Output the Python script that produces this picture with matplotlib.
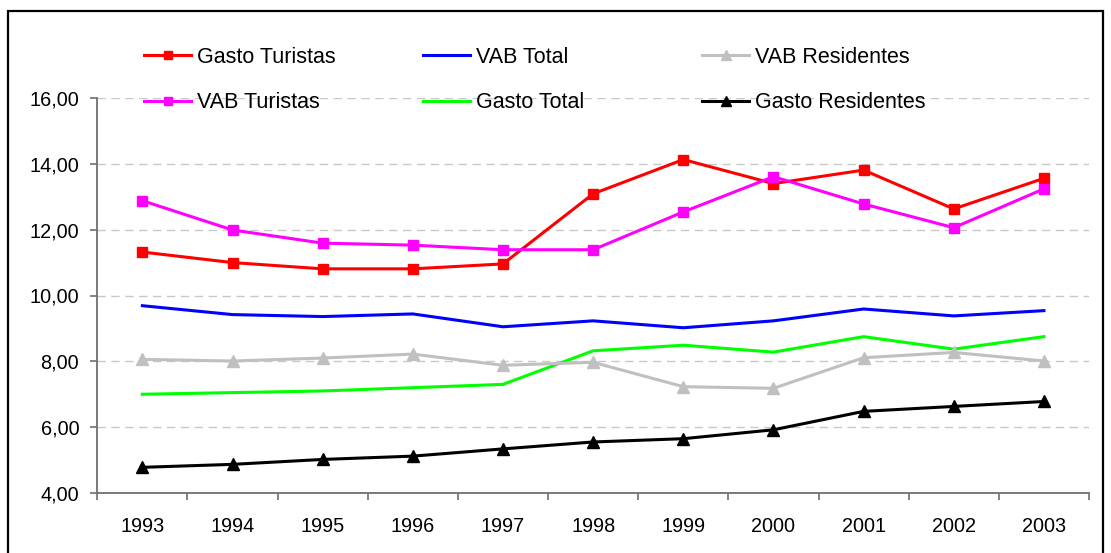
import matplotlib
matplotlib.use("Agg")
import matplotlib.pyplot as plt
from matplotlib.patches import Rectangle

plt.rcParams['font.family'] = ['Liberation Sans', 'DejaVu Sans']

# DATA
years = ["1993", "1994", "1995", "1996", "1997", "1998", "1999", "2000", "2001", "2002", "2003"]
gasto_turistas = [11.32, 11.00, 10.81, 10.81, 10.96, 13.09, 14.13, 13.40, 13.81, 12.63, 13.56]
vab_turistas = [12.88, 11.99, 11.59, 11.53, 11.39, 11.39, 12.54, 13.61, 12.78, 12.06, 13.24]
vab_total = [9.69, 9.42, 9.36, 9.44, 9.05, 9.23, 9.02, 9.23, 9.59, 9.38, 9.54]
gasto_total = [7.00, 7.05, 7.10, 7.20, 7.30, 8.32, 8.49, 8.28, 8.75, 8.37, 8.75]
vab_residentes = [8.06, 8.01, 8.10, 8.22, 7.88, 7.97, 7.23, 7.18, 8.11, 8.27, 8.01]
gasto_residentes = [4.78, 4.87, 5.02, 5.12, 5.34, 5.55, 5.65, 5.92, 6.48, 6.63, 6.78]

yticks = [4, 6, 8, 10, 12, 14, 16]
ytick_labels = ["4,00", "6,00", "8,00", "10,00", "12,00", "14,00", "16,00"]

fig = plt.figure(figsize=(11.11, 5.53), dpi=100)
ax = fig.add_axes([97.3/1111, 60/553, (1089-97.3)/1111, (493-98)/553])

x = [i + 0.5 for i in range(len(years))]
lw = 2.2

series = [
    ("Gasto Turistas", gasto_turistas, "#FF0000", "s", 7),
    ("VAB Turistas", vab_turistas, "#FF00FF", "s", 7),
    ("VAB Total", vab_total, "#0000FF", None, 0),
    ("Gasto Total", gasto_total, "#00FF00", None, 0),
    ("VAB Residentes", vab_residentes, "#C0C0C0", "^", 8),
    ("Gasto Residentes", gasto_residentes, "#000000", "^", 8),
]

handles = []
for name, vals, col, mk, ms in series:
    l, = ax.plot(x, vals, color=col, lw=lw, marker=mk, markersize=ms,
                 markeredgecolor=col, markerfacecolor=col, label=name, zorder=3)
    handles.append(l)

ax.set_xlim(0, len(years))
ax.set_ylim(4, 16)

# grid
for v in yticks[1:]:
    ax.axhline(v, color="#C8C8C8", lw=1, ls=(0, (6, 4)), zorder=1)

ax.set_yticks(yticks)
ax.set_yticklabels(ytick_labels)
ax.set_xticks(range(len(years) + 1))
ax.set_xticklabels([])
ax.set_xticks(x, minor=True)
ax.set_xticklabels(years, minor=True)
ax.tick_params(axis="x", which="major", length=5, color="#707070", width=1.2)
ax.tick_params(axis="x", which="minor", length=0, pad=17, labelsize=14.3)
ax.tick_params(axis="y", length=5, color="#707070", width=1.2, pad=8, labelsize=14.3)

for s in ["top", "right"]:
    ax.spines[s].set_visible(False)
for s in ["left", "bottom"]:
    ax.spines[s].set_color("#707070")
    ax.spines[s].set_linewidth(1.3)

# legend in three fixed columns
col_x = [144, 423, 702]
for j in range(3):
    leg = fig.legend(handles[2*j:2*j+2], [h.get_label() for h in handles[2*j:2*j+2]],
                     loc="upper left", bbox_to_anchor=(col_x[j]/1111, 1 - 47/553),
                     frameon=False, fontsize=15.5, handlelength=2.2, handletextpad=0.25,
                     labelspacing=1.12, borderpad=0, borderaxespad=0, markerscale=0.85)

# outer frame
fig.patches.append(Rectangle((7.5/1111, -0.02), (1103-7.5)/1111, 1.02 - 11/553,
                             transform=fig.transFigure, fill=False, ec="black", lw=1.6))

fig.savefig("out.png", dpi=100)
